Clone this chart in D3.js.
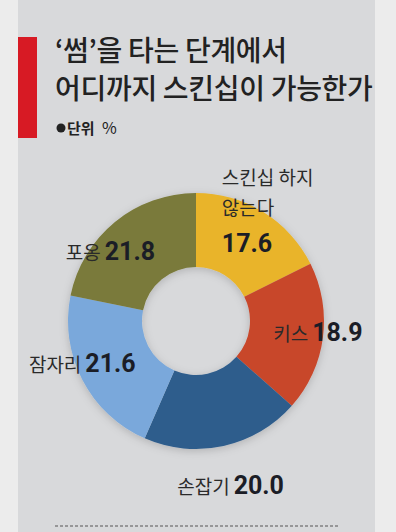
<!DOCTYPE html>
<html><head><meta charset="utf-8">
<script src="https://cdn.jsdelivr.net/npm/d3@7"></script>
<style>
html,body{margin:0;padding:0;background:#ececec;}
svg{display:block;}
</style></head>
<body>
<script>
const categories = ["스킨십 하지 않는다", "키스", "손잡기", "잠자리", "포옹"];
const values = [17.6, 18.9, 20.0, 21.6, 21.8];
const labelLines = [["스킨십 하지", "않는다"], ["키스"], ["손잡기"], ["잠자리"], ["포옹"]];
const colors = ["#E9B42B", "#C8472B", "#2F5D8C", "#7AA8DB", "#7A7A3A"];
const titleLines = ["‘썸’을 타는 단계에서", "어디까지 스킨십이 가능한가"];
const unitLabel = "단위 %";

const W = 396, H = 532;
const svg = d3.select("body").append("svg").attr("width", W).attr("height", H);

const defs = svg.append("defs");
const f = defs.append("filter").attr("id","sh").attr("x","-20%").attr("y","-20%").attr("width","140%").attr("height","140%");
f.append("feDropShadow").attr("dx",0).attr("dy",2).attr("stdDeviation",4).attr("flood-color","#000").attr("flood-opacity",0.18);

// panel
svg.append("rect").attr("x",18).attr("y",0).attr("width",357).attr("height",H).attr("fill","#d8d9db");
// red bar
svg.append("rect").attr("x",18).attr("y",37).attr("width",19).attr("height",101).attr("fill","#d71a24");

const titleG = svg.append("g").attr("font-family","'Noto Sans CJK KR', sans-serif").attr("fill","#222");
titleLines.forEach((t,i)=>{
  titleG.append("text").attr("x",55).attr("y",61 + i*38).attr("font-size",28).attr("font-weight",500)
    .attr("letter-spacing",-0.3).text(t);
});
const ug = svg.append("g").attr("font-family","'Noto Sans CJK KR', sans-serif").attr("fill","#222");
ug.append("circle").attr("cx",61).attr("cy",128).attr("r",4.5);
ug.append("text").attr("x",67).attr("y",133.5).attr("font-size",15).attr("font-weight",700).text("단위");
ug.append("text").attr("x",102).attr("y",134).attr("font-size",16).attr("font-weight",400).text("%");

// donut
const cx = 196, cy = 321, rOuter = 128, rInner = 54;
const pie = d3.pie().sort(null).value(d=>d)(values);
const arc = d3.arc().innerRadius(rInner).outerRadius(rOuter);
const g = svg.append("g").attr("transform",`translate(${cx},${cy})`);
const gs = g.append("g").attr("filter","url(#sh)");
gs.selectAll("path").data(pie).join("path").attr("d",arc).attr("fill",(d,i)=>colors[i]);

// labels: offsets relative to centroid (layout only)
const labelOffsets = [
  {dx:-22, dy:8, mode:"stack"},
  {dx:-13, dy:8, mode:"inline"},
  {dx:15, dy:84, mode:"inline", anchor:"middle"},
  {dx:-33, dy:9, mode:"inline", anchor:"middle"},
  {dx:-28, dy:9, mode:"inline", anchor:"middle"}
];
const KFS = 19, NFS = 25;
const lab = g.append("g");
pie.forEach((d,i)=>{
  const [x,y] = arc.centroid(d);
  const o = labelOffsets[i];
  const valStr = values[i].toFixed(1);
  if (o.mode === "stack") {
    labelLines[i].forEach((ln,k)=>{
      lab.append("text").attr("x",x+o.dx).attr("y",y+o.dy-67+k*30)
        .attr("font-family","'Noto Sans CJK KR', sans-serif").attr("font-size",KFS).attr("fill","#2a2a2a").text(ln);
    });
    lab.append("text").attr("x",x+o.dx).attr("y",y+o.dy)
      .attr("font-family","Roboto, sans-serif").attr("font-weight",700).attr("font-size",NFS).attr("fill","#1b1d26").text(valStr);
  } else {
    const t = lab.append("text").attr("x",x+o.dx).attr("y",y+o.dy)
      .attr("text-anchor",o.anchor||"start");
    t.append("tspan").attr("font-family","'Noto Sans CJK KR', sans-serif").attr("font-size",KFS).attr("fill","#2a2a2a").text(labelLines[i][0]);
    t.append("tspan").attr("dx",4).attr("font-family","Roboto, sans-serif").attr("font-weight",700).attr("font-size",NFS).attr("fill","#1b1d26").text(valStr);
  }
});

// dashed line
svg.append("line").attr("x1",55).attr("x2",340).attr("y1",526).attr("y2",526)
  .attr("stroke","#555").attr("stroke-width",1.2).attr("stroke-dasharray","3,2");
</script>
</body></html>
